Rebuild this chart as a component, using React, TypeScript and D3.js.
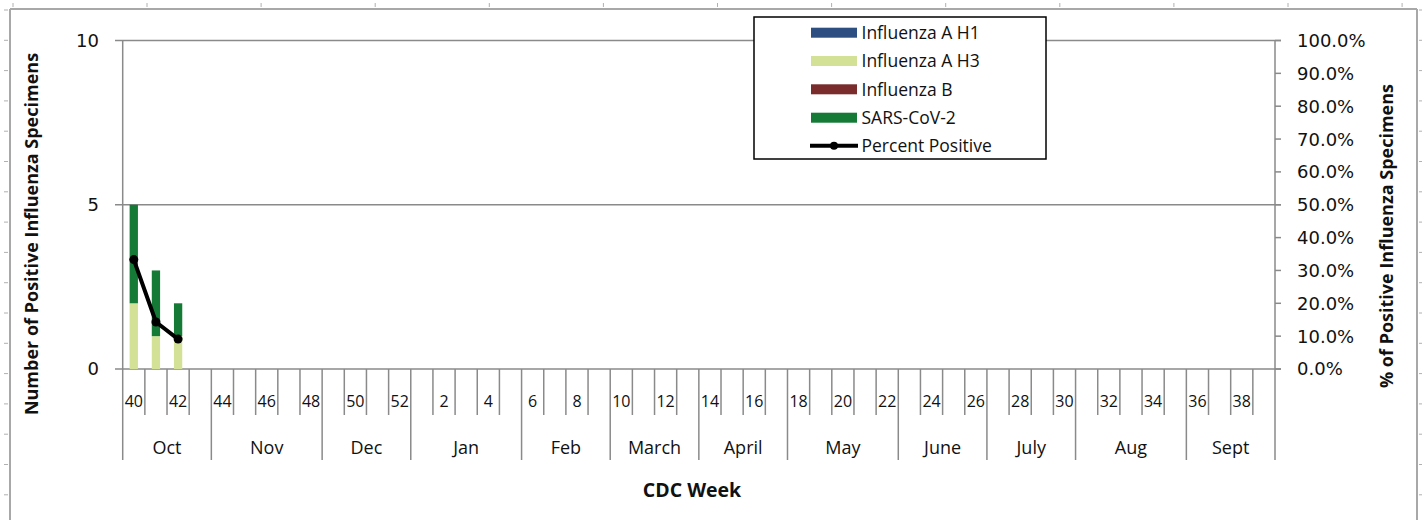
import React from "react";
import * as d3 from "d3";

// ---- data ----
const weeks = [
  "40", "41", "42", "43", "44", "45", "46", "47", "48", "49", "50", "51", "52",
  "1", "2", "3", "4", "5", "6", "7", "8", "9", "10", "11", "12", "13",
  "14", "15", "16", "17", "18", "19", "20", "21", "22", "23", "24", "25", "26",
  "27", "28", "29", "30", "31", "32", "33", "34", "35", "36", "37", "38", "39",
];
const months = ["Oct", "Nov", "Dec", "Jan", "Feb", "March", "April", "May", "June", "July", "Aug", "Sept"];
const monthWeekCounts = [4, 5, 4, 5, 4, 4, 4, 5, 4, 4, 5, 4];

const reportedWeeks = ["40", "41", "42"];
const fluAH1 = [0, 0, 0];
const fluAH3 = [2, 1, 1];
const fluB = [0, 0, 0];
const sarsCov2 = [3, 2, 1];
const percentPositive = [0.333, 0.143, 0.091];

const seriesNames = ["Influenza A H1", "Influenza A H3", "Influenza B", "SARS-CoV-2"];
const seriesColors = ["#2D4E80", "#D3E197", "#7A2B2B", "#147A36"];
const leftTicks = [0, 5, 10];
const rightTicks = [0, 0.1, 0.2, 0.3, 0.4, 0.5, 0.6, 0.7, 0.8, 0.9, 1.0];

const W = 1422;
const H = 520;
const plotLeft = 122.7;
const plotRight = 1275;
const plotTop = 40.5;
const plotBottom = 369;

export default function App() {
  const x = d3.scaleBand<string>().domain(weeks).range([plotLeft, plotRight]).padding(0);
  const bw = x.bandwidth();
  const y = d3.scaleLinear().domain([0, 10]).range([plotBottom, plotTop]);
  const y2 = d3.scaleLinear().domain([0, 1]).range([plotBottom, plotTop]);

  const rows = reportedWeeks.map((w, i) => ({
    week: w,
    [seriesNames[0]]: fluAH1[i],
    [seriesNames[1]]: fluAH3[i],
    [seriesNames[2]]: fluB[i],
    [seriesNames[3]]: sarsCov2[i],
  }));
  const stacked = d3.stack<any>().keys(seriesNames)(rows);
  const barW = bw * 0.375;

  const line = d3
    .line<number>()
    .x((_, i) => (x(reportedWeeks[i]) as number) + bw / 2)
    .y((d) => y2(d));

  const boundaryX = (i: number) => (i < weeks.length ? (x(weeks[i]) as number) : plotRight);
  const monthStarts: number[] = [];
  let acc = 0;
  monthWeekCounts.forEach((c) => {
    monthStarts.push(acc);
    acc += c;
  });
  const monthBoundarySet = new Set([...monthStarts, acc]);

  const gridColor = "#8a8a8a";
  const frameColor = "#a8a8a8";

  // decorative ruler ticks around frame
  const topRuler = [13];
  for (let k = 0; k < 12; k++) topRuler.push(147 + k * 114.1);
  const sideRuler: number[] = [];
  for (let k = 0; k < 17; k++) sideRuler.push(10 + k * 30.3);

  const legendRowY = [32.7, 61, 89.3, 117.7, 145.8];

  return (
    <svg width={W} height={H} style={{ position: "absolute", left: 0, top: 0, background: "#fff" }}>
      {/* outer frame */}
      <line x1={10} y1={9} x2={1417} y2={9} stroke={frameColor} strokeWidth={2} />
      <line x1={10} y1={9} x2={10} y2={H} stroke={frameColor} strokeWidth={2} />
      <line x1={1417} y1={9} x2={1417} y2={H} stroke={frameColor} strokeWidth={2} />
      {topRuler.map((t, i) => (
        <line key={"tr" + i} x1={t} y1={3} x2={t} y2={7} stroke="#b0b0b0" strokeWidth={1} />
      ))}
      {sideRuler.map((t, i) => (
        <g key={"sr" + i}>
          <line x1={4} y1={t} x2={8} y2={t} stroke="#b0b0b0" strokeWidth={1} />
          <line x1={1419} y1={t} x2={1422} y2={t} stroke="#b0b0b0" strokeWidth={1} />
        </g>
      ))}

      {/* gridlines */}
      {leftTicks.map((t) => (
        <line key={"g" + t} x1={115} x2={1281} y1={y(t)} y2={y(t)} stroke={gridColor} strokeWidth={1.5} />
      ))}
      {/* right ticks */}
      {rightTicks.map((t) => (
        <line key={"rt" + t} x1={plotRight} x2={1281} y1={y2(t)} y2={y2(t)} stroke={gridColor} strokeWidth={1.5} />
      ))}
      {/* axes */}
      <line x1={plotLeft} x2={plotLeft} y1={plotTop} y2={plotBottom} stroke={gridColor} strokeWidth={1.5} />
      <line x1={plotRight} x2={plotRight} y1={plotTop} y2={plotBottom} stroke={gridColor} strokeWidth={1.5} />

      {/* x category ticks */}
      {d3.range(weeks.length + 1).map((i) => (
        <line
          key={"xt" + i}
          x1={boundaryX(i)}
          x2={boundaryX(i)}
          y1={plotBottom}
          y2={monthBoundarySet.has(i) ? 460 : 415}
          stroke={gridColor}
          strokeWidth={1.5}
        />
      ))}
      {weeks.map((w, i) =>
        i % 2 === 0 ? (
          <text
            key={"wl" + w}
            x={(x(w) as number) + bw / 2}
            y={406.5}
            textAnchor="middle"
            fontFamily="Open Sans"
            fontSize={16}
            fill="#111"
          >
            {w}
          </text>
        ) : null
      )}
      {months.map((m, i) => {
        const a = boundaryX(monthStarts[i]);
        const b = boundaryX(monthStarts[i] + monthWeekCounts[i]);
        return (
          <text key={"ml" + m} x={(a + b) / 2} y={453.5} textAnchor="middle" fontFamily="Open Sans" fontSize={18} fill="#111">
            {m}
          </text>
        );
      })}

      {/* y tick labels */}
      {leftTicks.map((t) => (
        <text key={"yl" + t} x={99} y={y(t)} dy="0.36em" textAnchor="end" fontFamily="DejaVu Sans" fontSize={18} fill="#111">
          {t}
        </text>
      ))}
      {rightTicks.map((t) => (
        <text key={"yr" + t} x={1297} y={y2(t)} dy="0.36em" textAnchor="start" fontFamily="DejaVu Sans" fontSize={18} fill="#111">
          {d3.format(".1%")(t)}
        </text>
      ))}

      {/* bars */}
      {stacked.map((s, si) =>
        s.map((d, i) =>
          d[1] - d[0] > 0 ? (
            <rect
              key={"b" + si + "-" + i}
              x={(x(reportedWeeks[i]) as number) + bw / 2 - barW / 2}
              width={barW}
              y={y(d[1])}
              height={y(d[0]) - y(d[1])}
              fill={seriesColors[si]}
            />
          ) : null
        )
      )}

      {/* percent positive line */}
      <path d={line(percentPositive) || ""} fill="none" stroke="#000" strokeWidth={4} strokeLinejoin="round" />
      {percentPositive.map((p, i) => (
        <circle key={"pt" + i} cx={(x(reportedWeeks[i]) as number) + bw / 2} cy={y2(p)} r={4.5} fill="#000" />
      ))}

      {/* axis titles */}
      <text
        transform={`translate(38,234) rotate(-90)`}
        textAnchor="middle"
        fontFamily="Open Sans"
        fontWeight="bold"
        fontSize={18}
        fill="#111"
      >
        Number of Positive Influenza Specimens
      </text>
      <text
        transform={`translate(1393,236) rotate(-90)`}
        textAnchor="middle"
        fontFamily="Open Sans"
        fontWeight="bold"
        fontSize={18}
        fill="#111"
      >
        % of Positive Influenza Specimens
      </text>
      <text x={692} y={496.5} textAnchor="middle" fontFamily="Open Sans" fontWeight="bold" fontSize={19.5} fill="#111">
        CDC Week
      </text>

      {/* legend */}
      <rect x={754} y={17} width={292} height={142} fill="#fff" stroke="#000" strokeWidth={1.5} />
      {seriesNames.map((n, i) => (
        <g key={"lg" + n}>
          <rect x={811} y={legendRowY[i] - 5} width={46} height={10} fill={seriesColors[i]} />
          <text x={861.5} y={legendRowY[i]} dy="0.36em" fontFamily="Open Sans" fontSize={17.5} fill="#111">
            {n}
          </text>
        </g>
      ))}
      <line x1={810} x2={858} y1={legendRowY[4]} y2={legendRowY[4]} stroke="#000" strokeWidth={4} />
      <circle cx={834} cy={legendRowY[4]} r={4} fill="#000" />
      <text x={861.5} y={legendRowY[4]} dy="0.36em" fontFamily="Open Sans" fontSize={17.5} fill="#111">
        Percent Positive
      </text>
    </svg>
  );
}
